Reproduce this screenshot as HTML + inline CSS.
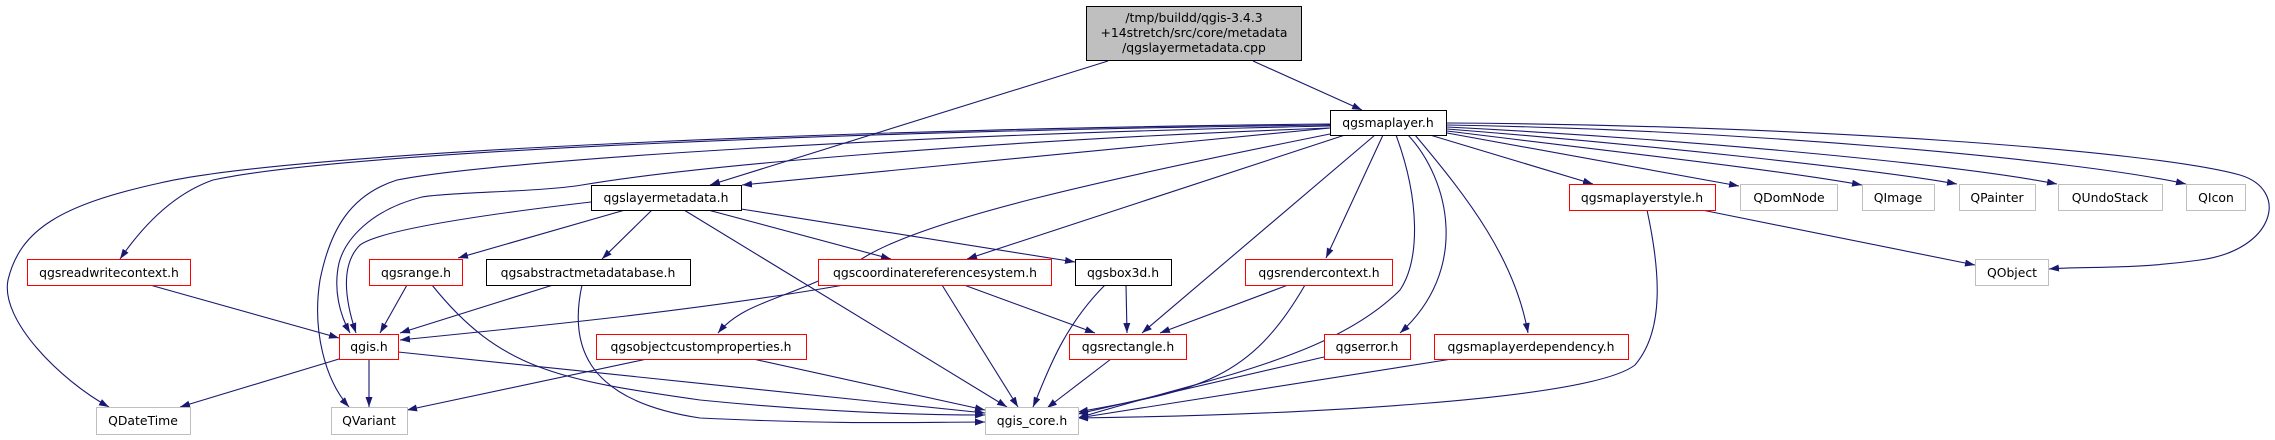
<!DOCTYPE html>
<html><head><meta charset="utf-8"><style>
html,body{margin:0;padding:0;background:#fff;}
svg{display:block;}
text{font-family:"DejaVu Sans","Liberation Sans",sans-serif;font-size:12.4px;fill:#000;text-anchor:middle;}
.e{fill:none;stroke:#191970;stroke-width:1.1;marker-end:url(#a);}
.b{fill:#fff;stroke:#000;stroke-width:1;}
.r{fill:#fff;stroke:#ff0000;stroke-width:1;}
.g{fill:#fff;stroke:#bfbfbf;stroke-width:1;}
</style></head><body>
<svg width="2275" height="440" viewBox="0 0 2275 440" xmlns="http://www.w3.org/2000/svg">
<defs><marker id="a" markerUnits="userSpaceOnUse" markerWidth="11" markerHeight="8" refX="10" refY="3.5" orient="auto"><path d="M0,0 L10,3.5 L0,7 z" fill="#191970"/></marker></defs>
<g>
<path class="e" d="M1253,61 L1362,110"/>
<path class="e" d="M1108,61 L710,185"/>
<path class="e" d="M1330,128 C1100,150 900,170 742,185"/>
<path class="e" d="M1330,124 C900,128 300,150 160,183 C60,205 20,230 8,280 C0,320 60,380 109,407"/>
<path class="e" d="M1330,125 C900,130 350,150 213,180 C170,195 140,230 120,259"/>
<path class="e" d="M1330,126 C900,135 500,160 397,180 C350,195 330,230 320,280 C312,330 325,380 349,407"/>
<path class="e" d="M1330,128 C1000,140 700,165 582,185 C540,192 450,192 422,197 C370,210 345,240 339,263 C333,290 340,315 350,333"/>
<path class="e" d="M591,202 C480,215 380,230 360,245 C340,265 345,300 356,333"/>
<path class="e" d="M407,285 L380,333"/>
<path class="e" d="M553,285 L400,333"/>
<path class="e" d="M844,285 C700,310 550,325 400,340"/>
<path class="e" d="M150,285 L339,338"/>
<path class="e" d="M625,210 L458,258"/>
<path class="e" d="M652,210 L602,259"/>
<path class="e" d="M684,210 L1007,407"/>
<path class="e" d="M708,210 L891,259"/>
<path class="e" d="M741,209 L1075,262"/>
<path class="e" d="M1345,135 L967,259"/>
<path class="e" d="M1340,132 C1100,180 920,220 860,260 C790,300 745,300 718,333"/>
<path class="e" d="M1375,135 L1142,333"/>
<path class="e" d="M1383,135 L1326,258"/>
<path class="e" d="M1396,135 C1420,200 1420,260 1400,290 C1330,360 1200,380 1078,418"/>
<path class="e" d="M1408,135 C1450,180 1470,270 1400,333"/>
<path class="e" d="M1415,135 C1470,200 1515,260 1528,333"/>
<path class="e" d="M1430,135 L1593,184"/>
<path class="e" d="M1447,133 L1739,186"/>
<path class="e" d="M1447,131 C1600,150 1780,170 1862,185"/>
<path class="e" d="M1447,129 C1650,145 1880,170 1957,184"/>
<path class="e" d="M1447,127 C1700,140 1960,165 2057,184"/>
<path class="e" d="M1447,125 C1750,130 2080,160 2186,184"/>
<path class="e" d="M1447,123 C1800,125 2150,150 2240,175 C2290,190 2275,250 2200,260 C2130,270 2080,266 2049,269"/>
<path class="e" d="M1702,210 L1975,265"/>
<path class="e" d="M1647,210 C1660,270 1665,330 1635,365 C1590,400 1300,415 1078,418"/>
<path class="e" d="M1288,285 L1160,333"/>
<path class="e" d="M1305,285 C1250,380 1200,390 1078,412"/>
<path class="e" d="M1324,357 L1078,414"/>
<path class="e" d="M1452,359 L1078,418"/>
<path class="e" d="M1126,285 L1127,333"/>
<path class="e" d="M1105,285 C1060,330 1045,380 1033,407"/>
<path class="e" d="M964,285 L1095,333"/>
<path class="e" d="M942,285 L1018,407"/>
<path class="e" d="M1111,359 L1047,408"/>
<path class="e" d="M432,285 C500,370 560,380 700,400 C800,410 900,415 985,415"/>
<path class="e" d="M582,285 C570,340 580,400 700,418 C850,425 920,422 985,422"/>
<path class="e" d="M398,352 L985,413"/>
<path class="e" d="M339,359 L180,407"/>
<path class="e" d="M369,359 L369,407"/>
<path class="e" d="M647,359 L407,410"/>
<path class="e" d="M753,359 L985,410"/>
</g>
<g>
<rect x="1086.5" y="6.5" width="215" height="54" fill="#bfbfbf" stroke="#000"/>
<text x="1194" y="22">/tmp/buildd/qgis-3.4.3</text>
<text x="1194" y="37">+14stretch/src/core/metadata</text>
<text x="1194" y="52">/qgslayermetadata.cpp</text>

<rect class="b" x="1330.5" y="110.5" width="116" height="25"/><text x="1388" y="127">qgsmaplayer.h</text>
<rect class="b" x="591.5" y="185.5" width="150" height="25"/><text x="666" y="202">qgslayermetadata.h</text>
<rect class="r" x="27.5" y="259.5" width="163" height="26"/><text x="109" y="277">qgsreadwritecontext.h</text>
<rect class="r" x="369.5" y="259.5" width="93" height="26"/><text x="416" y="277">qgsrange.h</text>
<rect class="b" x="486.5" y="259.5" width="204" height="26"/><text x="588" y="277">qgsabstractmetadatabase.h</text>
<rect class="r" x="818.5" y="259.5" width="233" height="26"/><text x="935" y="277">qgscoordinatereferencesystem.h</text>
<rect class="b" x="1075.5" y="259.5" width="96" height="26"/><text x="1123" y="277">qgsbox3d.h</text>
<rect class="r" x="1245.5" y="259.5" width="147" height="26"/><text x="1319" y="277">qgsrendercontext.h</text>
<rect class="g" x="1975.5" y="259.5" width="73" height="26"/><text x="2012" y="277">QObject</text>
<rect class="r" x="339.5" y="334.5" width="59" height="25"/><text x="369" y="351">qgis.h</text>
<rect class="r" x="596.5" y="334.5" width="210" height="25"/><text x="701" y="351">qgsobjectcustomproperties.h</text>
<rect class="r" x="1069.5" y="334.5" width="117" height="25"/><text x="1128" y="351">qgsrectangle.h</text>
<rect class="r" x="1324.5" y="334.5" width="86" height="25"/><text x="1367" y="351">qgserror.h</text>
<rect class="r" x="1434.5" y="334.5" width="194" height="25"/><text x="1531" y="351">qgsmaplayerdependency.h</text>
<rect class="r" x="1569.5" y="184.5" width="146" height="26"/><text x="1642" y="202">qgsmaplayerstyle.h</text>
<rect class="g" x="1740.5" y="184.5" width="97" height="26"/><text x="1789" y="202">QDomNode</text>
<rect class="g" x="1862.5" y="184.5" width="72" height="26"/><text x="1898" y="202">QImage</text>
<rect class="g" x="1959.5" y="184.5" width="76" height="26"/><text x="1997" y="202">QPainter</text>
<rect class="g" x="2058.5" y="184.5" width="104" height="26"/><text x="2110" y="202">QUndoStack</text>
<rect class="g" x="2186.5" y="184.5" width="59" height="26"/><text x="2216" y="202">QIcon</text>
<rect class="g" x="96.5" y="407.5" width="94" height="27"/><text x="143" y="425">QDateTime</text>
<rect class="g" x="331.5" y="407.5" width="76" height="27"/><text x="369" y="425">QVariant</text>
<rect class="g" x="985.5" y="407.5" width="93" height="27"/><text x="1032" y="425">qgis_core.h</text>
</g>
</svg>
</body></html>
